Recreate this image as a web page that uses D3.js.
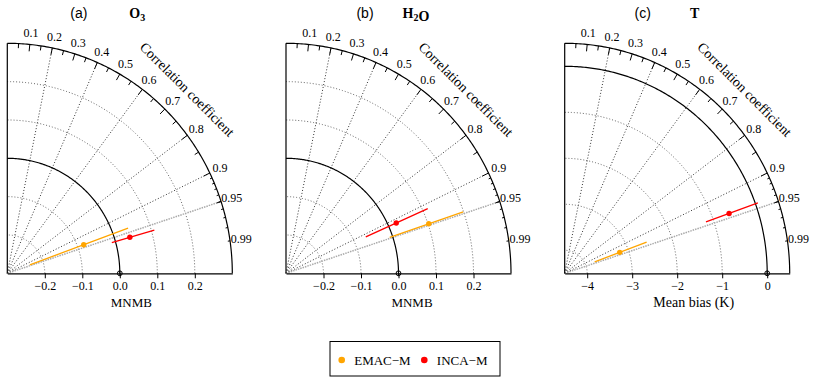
<!DOCTYPE html>
<html>
<head>
<meta charset="utf-8">
<script src="https://cdn.jsdelivr.net/npm/d3@7"></script>
<style>
    body { margin: 0; background: #fff; }
    svg text { font-family: "Liberation Serif", "Times New Roman", Times, serif; fill: #000; }
</style>
</head>
<body>
<div id="chart"></div>
<script>

// ---- data ----
const panelLetters = ["(a)", "(b)", "(c)"];
const panelTitles = ["O_3", "H_2O", "T"];
const axisLabels = ["MNMB", "MNMB", "Mean bias (K)"];
const biasDomains = [[-0.3, 0.3], [-0.3, 0.3], [-4.5, 0.5]];
const biasTicks = [[-0.2, -0.1, 0, 0.1, 0.2], [-0.2, -0.1, 0, 0.1, 0.2], [-4, -3, -2, -1, 0]];
const tickFormats = [".1f", ".1f", "d"];

const models = ["EMAC\u2212M", "INCA\u2212M"];
const modelColors = ["#FFA500", "#FF0000"];

// bias (radius), correlation, bias range
const emacBias = [-0.083, 0.102, -3.195];
const emacCorr = [0.939, 0.947, 0.937];
const emacLow  = [-0.236, -0.008, -3.789];
const emacHigh = [0.043, 0.199, -2.557];

const incaBias = [0.040, 0.022, -0.622];
const incaCorr = [0.961, 0.913, 0.942];
const incaLow  = [-0.010, -0.067, -1.167];
const incaHigh = [0.108, 0.114, 0.057];

const corrLabels = [0.1, 0.2, 0.3, 0.4, 0.5, 0.6, 0.7, 0.8, 0.9, 0.95, 0.99];
const corrBigTicks = [0.1, 0.2, 0.3, 0.4, 0.5, 0.6, 0.7, 0.8, 0.9];
const corrMedTicks = [0.05, 0.15, 0.25, 0.35, 0.45, 0.55, 0.65, 0.75, 0.85, 0.95];
const corrSmallTicks = [0.91, 0.92, 0.93, 0.94, 0.95, 0.96, 0.97, 0.98, 0.99];
const corrGrid = [0.2, 0.4, 0.6, 0.8, 0.9];
const corrGridLight = [0.95];

// ---- layout ----
const panelX = [7.3, 286, 564.7];
const originY = 273.3;
const radiusX = 225, radiusY = 230;
const letterX = [71.5, 79, 78];
const titleX = 130;
const axisLabelX = [124, 126, 129];
const axisLabelSize = [13, 13, 14];
const serif = "'Liberation Serif', 'Times New Roman', Times, serif";


class TaylorVis {

    constructor(svg, idx) {
        this.svg = svg;
        this.idx = idx;
        this.initVis();
    }

    initVis() {
        let vis = this;
        let i = vis.idx;

        vis.g = vis.svg.append("g")
            .attr("transform", `translate(${panelX[i]}, ${originY})`);

        // radius scales (plot is slightly taller than wide)
        vis.rx = d3.scaleLinear().domain(biasDomains[i]).range([0, radiusX]);
        vis.ry = d3.scaleLinear().domain(biasDomains[i]).range([0, radiusY]);
        vis.maxV = biasDomains[i][1];

        vis.pt = (v, c) => [vis.rx(v) * c, -vis.ry(v) * Math.sqrt(1 - c * c)];
        vis.arcPath = v => d3.line()(d3.range(0, 90.5, 0.5).map(a => {
            let t = a * Math.PI / 180;
            return [vis.rx(v) * Math.cos(t), -vis.ry(v) * Math.sin(t)];
        }));
        vis.onRim = (c, f) => [radiusX * f * c, -radiusY * f * Math.sqrt(1 - c * c)];

        // dotted bias arcs
        vis.g.selectAll(".grid-arc")
            .data(biasTicks[i].filter(d => d !== 0))
            .enter().append("path")
            .attr("class", "grid-arc")
            .attr("d", d => vis.arcPath(d))
            .attr("fill", "none")
            .attr("stroke", "#666")
            .attr("stroke-width", 1)
            .attr("stroke-dasharray", "1,2");

        // correlation lines
        vis.g.selectAll(".corr-line")
            .data(corrGrid)
            .enter().append("line")
            .attr("class", "corr-line")
            .attr("x1", 0).attr("y1", 0)
            .attr("x2", d => vis.onRim(d, 1)[0])
            .attr("y2", d => vis.onRim(d, 1)[1])
            .attr("stroke", "#333")
            .attr("stroke-width", 1)
            .attr("stroke-dasharray", "1,2");

        vis.g.selectAll(".corr-line-light")
            .data(corrGridLight)
            .enter().append("line")
            .attr("class", "corr-line-light")
            .attr("x1", 0).attr("y1", 0)
            .attr("x2", d => vis.onRim(d, 1)[0])
            .attr("y2", d => vis.onRim(d, 1)[1])
            .attr("stroke", "#aaa")
            .attr("stroke-width", 1.5)
            .attr("stroke-dasharray", "1.5,1");

        // reference arc (zero bias) and outer arc
        vis.g.append("path")
            .attr("d", vis.arcPath(0))
            .attr("fill", "none")
            .attr("stroke", "#000")
            .attr("stroke-width", 1.2);

        vis.g.append("path")
            .attr("d", vis.arcPath(vis.maxV))
            .attr("fill", "none")
            .attr("stroke", "#000")
            .attr("stroke-width", 1.2);

        // left axis line
        vis.g.append("line")
            .attr("x1", 0).attr("y1", 0)
            .attr("x2", 0).attr("y2", -radiusY)
            .attr("stroke", "#000")
            .attr("stroke-width", 1.2);

        // correlation ticks
        let tickSets = [[corrBigTicks, 0.97], [corrMedTicks, 0.98], [corrSmallTicks, 0.99]];
        tickSets.forEach(ts => {
            vis.g.selectAll(null)
                .data(ts[0])
                .enter().append("line")
                .attr("x1", d => vis.onRim(d, 1)[0])
                .attr("y1", d => vis.onRim(d, 1)[1])
                .attr("x2", d => vis.onRim(d, ts[1])[0])
                .attr("y2", d => vis.onRim(d, ts[1])[1])
                .attr("stroke", "#000")
                .attr("stroke-width", 1);
        });

        vis.g.selectAll(".corr-label")
            .data(corrLabels)
            .enter().append("text")
            .attr("class", "corr-label")
            .attr("x", d => vis.onRim(d, 1.05)[0])
            .attr("y", d => vis.onRim(d, 1.05)[1])
            .attr("dy", "0.35em")
            .attr("text-anchor", "middle")
            .style("font-family", serif)
            .style("font-size", "12px")
            .text(d => d);

        vis.g.append("text")
            .attr("transform", `translate(${radiusX * 0.8}, ${-radiusY * 0.8}) rotate(45)`)
            .attr("dy", "0.35em")
            .attr("text-anchor", "middle")
            .style("font-family", serif)
            .style("font-size", "14px")
            .text("Correlation coefficient");

        // bias axis
        vis.xAxis = d3.axisBottom(vis.rx)
            .tickValues(biasTicks[i])
            .tickSize(5)
            .tickSizeOuter(0)
            .tickPadding(3)
            .tickFormat(d3.format(tickFormats[i]));

        let ax = vis.g.append("g").attr("class", "x-axis").call(vis.xAxis);
        ax.attr("font-family", null).attr("font-size", null);
        ax.select(".domain").attr("stroke-width", 1.2);
        ax.selectAll("text")
            .style("font-family", serif)
            .style("font-size", "12px");

        vis.g.append("text")
            .attr("x", axisLabelX[i])
            .attr("y", 34)
            .attr("text-anchor", "middle")
            .style("font-family", serif)
            .style("font-size", axisLabelSize[i] + "px")
            .text(axisLabels[i]);

        // titles
        vis.g.append("text")
            .attr("x", letterX[i])
            .attr("y", 18 - originY)
            .attr("text-anchor", "middle")
            .style("font-family", "'Liberation Sans', Arial, sans-serif")
            .style("font-size", "14px")
            .text(panelLetters[i]);

        let title = vis.g.append("text")
            .attr("x", titleX)
            .attr("y", 18 - originY)
            .attr("text-anchor", "middle")
            .style("font-family", serif)
            .style("font-size", "14px")
            .style("font-weight", "bold");
        panelTitles[i].split(/(_\d)/).filter(s => s.length).forEach(s => {
            if (s[0] === "_") {
                title.append("tspan").attr("dy", 3).style("font-size", "10px").text(s.slice(1));
                title.append("tspan").attr("dy", -3).text("");
            } else {
                title.append("tspan").text(s);
            }
        });

        vis.wrangleData();
    }

    wrangleData() {
        let vis = this;
        let i = vis.idx;
        vis.displayData = [
            {name: models[0], color: modelColors[0], bias: emacBias[i], corr: emacCorr[i], low: emacLow[i], high: emacHigh[i]},
            {name: models[1], color: modelColors[1], bias: incaBias[i], corr: incaCorr[i], low: incaLow[i], high: incaHigh[i]}
        ];
        vis.updateVis();
    }

    updateVis() {
        let vis = this;

        vis.g.selectAll(".range")
            .data(vis.displayData)
            .enter().append("line")
            .attr("class", "range")
            .attr("x1", d => vis.pt(d.low, d.corr)[0])
            .attr("y1", d => vis.pt(d.low, d.corr)[1])
            .attr("x2", d => vis.pt(d.high, d.corr)[0])
            .attr("y2", d => vis.pt(d.high, d.corr)[1])
            .attr("stroke", d => d.color)
            .attr("stroke-width", 1.3);

        vis.g.selectAll(".model")
            .data(vis.displayData)
            .enter().append("circle")
            .attr("class", "model")
            .attr("cx", d => vis.pt(d.bias, d.corr)[0])
            .attr("cy", d => vis.pt(d.bias, d.corr)[1])
            .attr("r", 2.7)
            .attr("fill", d => d.color);

        // reference point
        vis.g.append("circle")
            .attr("cx", vis.rx(0)).attr("cy", 0)
            .attr("r", 2.4)
            .attr("fill", "none")
            .attr("stroke", "#000")
            .attr("stroke-width", 1);
        vis.g.append("line")
            .attr("x1", vis.rx(0)).attr("x2", vis.rx(0))
            .attr("y1", -2.4).attr("y2", 2.4)
            .attr("stroke", "#000");
    }
}


let svg = d3.select("#chart").append("svg")
    .attr("width", 816)
    .attr("height", 384);

panelTitles.forEach((d, i) => new TaylorVis(svg, i));

// legend
let legend = svg.append("g").attr("class", "legend");
legend.append("rect")
    .attr("x", 330).attr("y", 341.5)
    .attr("width", 170).attr("height", 34.5)
    .attr("fill", "none")
    .attr("stroke", "#000")
    .attr("stroke-width", 1);

let legendX = [341.7, 424.3];
models.forEach((m, i) => {
    legend.append("circle")
        .attr("cx", legendX[i]).attr("cy", 360)
        .attr("r", 3.3)
        .attr("fill", modelColors[i]);
    legend.append("text")
        .attr("x", legendX[i] + 12.5).attr("y", 364.5)
        .style("font-family", serif)
        .style("font-size", "13px")
        .text(m);
});

</script>
</body>
</html>
